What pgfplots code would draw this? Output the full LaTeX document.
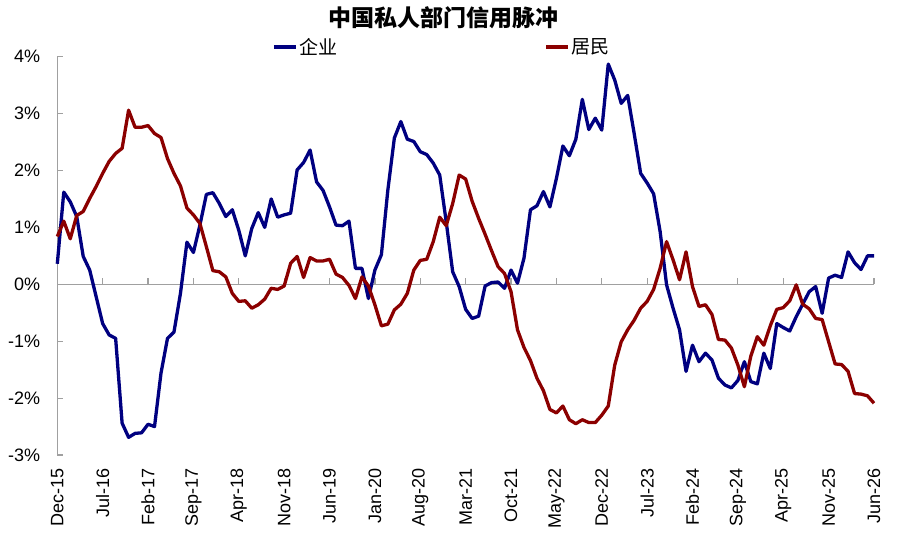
\documentclass[border=0pt]{standalone}
\usepackage{fontspec}
\setmainfont{Liberation Sans}
\newfontfamily\cjk{Noto Sans CJK SC}
\usepackage{pgfplots}
\pgfplotsset{compat=1.18}
\definecolor{qyblue}{RGB}{0,0,128}
\definecolor{jmred}{RGB}{139,0,0}
\definecolor{axgray}{RGB}{160,160,160}
\pgfplotstableread{
m v
0 0.36
1 1.62
2 1.45
3 1.19
4 0.49
5 0.25
6 -0.22
7 -0.69
8 -0.89
9 -0.95
10 -2.44
11 -2.69
12 -2.62
13 -2.61
14 -2.46
15 -2.50
16 -1.56
17 -0.95
18 -0.84
19 -0.16
20 0.74
21 0.56
22 1.04
23 1.58
24 1.61
25 1.42
26 1.19
27 1.31
28 0.95
29 0.50
30 0.98
31 1.26
32 1.00
33 1.50
34 1.18
35 1.22
36 1.25
37 2.01
38 2.14
39 2.36
40 1.80
41 1.65
42 1.36
43 1.04
44 1.03
45 1.11
46 0.28
47 0.28
48 -0.25
49 0.25
50 0.52
51 1.66
52 2.57
53 2.86
54 2.55
55 2.51
56 2.33
57 2.28
58 2.13
59 1.92
60 1.10
61 0.22
62 -0.04
63 -0.44
64 -0.60
65 -0.56
66 -0.03
67 0.03
68 0.04
69 -0.07
70 0.25
71 0.02
72 0.46
73 1.31
74 1.38
75 1.63
76 1.36
77 1.86
78 2.43
79 2.26
80 2.55
81 3.25
82 2.72
83 2.92
84 2.71
85 3.87
86 3.59
87 3.18
88 3.32
89 2.65
90 1.95
91 1.78
92 1.59
93 0.93
94 -0.01
95 -0.42
96 -0.80
97 -1.53
98 -1.07
99 -1.36
100 -1.21
101 -1.33
102 -1.65
103 -1.77
104 -1.82
105 -1.69
106 -1.36
107 -1.71
108 -1.75
109 -1.21
110 -1.48
111 -0.69
112 -0.76
113 -0.82
114 -0.57
115 -0.35
116 -0.13
117 -0.04
118 -0.51
119 0.11
120 0.16
121 0.12
122 0.57
123 0.38
124 0.26
125 0.50
126 0.50
}\qiye
\pgfplotstableread{
m v
0 0.84
1 1.11
2 0.80
3 1.21
4 1.28
5 1.51
6 1.72
7 1.95
8 2.16
9 2.30
10 2.39
11 3.06
12 2.76
13 2.76
14 2.79
15 2.65
16 2.58
17 2.21
18 1.95
19 1.73
20 1.34
21 1.22
22 1.07
23 0.66
24 0.24
25 0.22
26 0.13
27 -0.16
28 -0.30
29 -0.29
30 -0.42
31 -0.36
32 -0.26
33 -0.07
34 -0.09
35 -0.03
36 0.37
37 0.49
38 0.12
39 0.47
40 0.41
41 0.41
42 0.44
43 0.18
44 0.12
45 -0.02
46 -0.25
47 0.13
48 -0.03
49 -0.36
50 -0.73
51 -0.70
52 -0.45
53 -0.35
54 -0.16
55 0.25
56 0.42
57 0.44
58 0.75
59 1.18
60 1.03
61 1.42
62 1.92
63 1.85
64 1.46
65 1.16
66 0.88
67 0.59
68 0.31
69 0.19
70 -0.13
71 -0.80
72 -1.11
73 -1.34
74 -1.65
75 -1.87
76 -2.20
77 -2.26
78 -2.14
79 -2.38
80 -2.45
81 -2.38
82 -2.43
83 -2.43
84 -2.30
85 -2.14
86 -1.42
87 -1.01
88 -0.80
89 -0.63
90 -0.42
91 -0.30
92 -0.09
93 0.28
94 0.75
95 0.43
96 0.08
97 0.57
98 -0.04
99 -0.39
100 -0.36
101 -0.53
102 -0.97
103 -0.98
104 -1.12
105 -1.42
106 -1.80
107 -1.26
108 -0.92
109 -1.07
110 -0.73
111 -0.44
112 -0.41
113 -0.29
114 -0.01
115 -0.35
116 -0.43
117 -0.60
118 -0.62
119 -1.01
120 -1.40
121 -1.41
122 -1.53
123 -1.92
124 -1.93
125 -1.96
126 -2.09
}\jumin
\begin{document}
\begin{tikzpicture}
\useasboundingbox (0pt,0pt) rectangle (900pt,547pt);
\begin{axis}[
  at={(57.3pt,92pt)}, anchor=south west,
  width=816.7pt, height=398.3pt, scale only axis,
  xmin=0, xmax=126, ymin=-3, ymax=4,
  axis x line*=bottom, axis y line*=left,
  x axis line style={draw=none},
  y axis line style={axgray, line width=1.2pt},
  xtick={0,7,...,126},
  xticklabels={Dec-15,Jul-16,Feb-17,Sep-17,Apr-18,Nov-18,Jun-19,Jan-20,Aug-20,Mar-21,Oct-21,May-22,Dec-22,Jul-23,Feb-24,Sep-24,Apr-25,Nov-25,Jun-26},
  xtick style={draw=none},
  ytick={-3,-2,-1,0,1,2,3,4},
  yticklabels={-3\%,-2\%,-1\%,0\%,1\%,2\%,3\%,4\%},
  ytick style={axgray, line width=1.2pt},
  tick align=inside, major tick length=6pt,
  xticklabel style={yshift=-13pt, rotate=90, anchor=east, inner sep=0pt, font=\fontsize{18}{20}\selectfont},
  yticklabel style={anchor=east, inner sep=0pt, xshift=-17pt, font=\fontsize{18}{20}\selectfont},
  legend columns=2,
  legend style={at={(0.263,1.024)}, anchor=west, draw=none, fill=none, inner sep=0pt,
    font=\cjk\fontsize{19}{21}\selectfont,
    nodes={inner sep=2pt},
    /tikz/every even column/.append style={column sep=205pt}},
  legend image code/.code={\draw[#1, line width=3.3pt] (0pt,0pt) -- (22pt,0pt);},
  clip=false,
]
\draw[axgray, line width=1.2pt] (axis cs:0,0) -- (axis cs:126,0);
\pgfplotsinvokeforeach{7,14,...,126}{\draw[axgray, line width=1.2pt] (axis cs:#1,0) -- ++(0pt,6pt);}
\addplot[qyblue, line width=3.3pt, line join=round, no marks] table[x=m,y=v] {\qiye};
\addlegendentry{企业}
\addplot[jmred, line width=3.3pt, line join=round, no marks] table[x=m,y=v] {\jumin};
\addlegendentry{居民}
\end{axis}
\node[font=\cjk\bfseries\fontsize{23}{25}\selectfont] at (443pt,529pt) {中国私人部门信用脉冲};
\end{tikzpicture}
\end{document}
